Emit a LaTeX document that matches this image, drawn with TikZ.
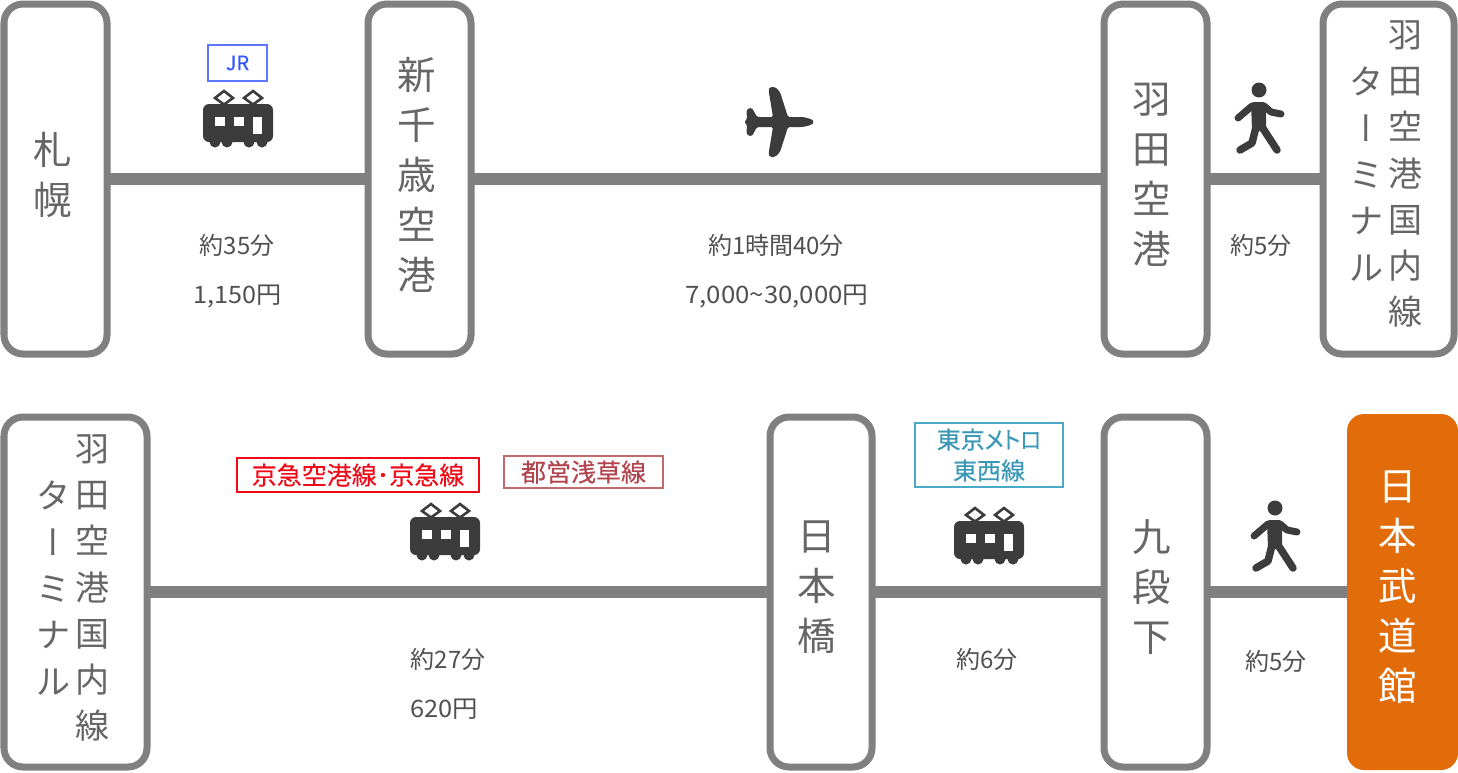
\documentclass[tikz,border=0pt]{standalone}
\usepackage{fontspec}
\setmainfont{Noto Sans CJK JP}
\newfontfamily\cjkp[RawFeature=+palt,FakeBold=0.25]{Noto Sans CJK JP}
\newfontfamily\cjkv[RawFeature=+vert]{Noto Sans CJK JP}
\definecolor{boxgray}{HTML}{808080}
\definecolor{txtgray}{HTML}{666666}
\definecolor{icondark}{HTML}{3C3C3C}
\definecolor{orangebox}{HTML}{E36C0A}
\definecolor{jrblue}{HTML}{3355FF}
\definecolor{kqred}{HTML}{F00A17}
\definecolor{asared}{HTML}{C26A6C}
\definecolor{asatxt}{HTML}{B2444E}
\definecolor{metro}{HTML}{4BA9C8}
\definecolor{metrotxt}{HTML}{3A97B5}
\tikzset{
 x=1pt,y=-1pt,
 stationbox/.style={draw=boxgray,line width=7pt,rounded corners=19pt,fill=white,inner sep=0pt,outer sep=0pt,anchor=north west},
 goalbox/.style={fill=orangebox,rounded corners=17pt,inner sep=0pt,outer sep=0pt,anchor=north west},
 stationtxt/.style={text=txtgray,align=center,inner sep=0pt,font=\fontsize{38.5}{50}\selectfont},
 goaltxt/.style={stationtxt,text=white},
 vcol/.style={text=txtgray,align=center,inner sep=0pt,font=\fontsize{34}{46.3}\selectfont},
 railline/.style={draw=boxgray,line width=12pt},
 info/.style={text=icondark!90,inner sep=0pt,font=\fontsize{24}{28}\selectfont},
 tagbox/.style={draw,line width=1.5pt,inner sep=0pt,align=center,font=\cjkp\fontsize{25}{31}\selectfont},
 pics/train/.style={code={
  \fill[icondark,rounded corners=6pt] (-35,-21) -- (35,-21) -- (35,17) -- (-35,17) -- cycle;
  \foreach \wx in {-23,-11,11,24}{\fill[icondark] (\wx,17) circle[radius=5.5];}
  \fill[white] (-23,-8) rectangle (-13,1);
  \fill[white] (-4,-8) rectangle (6,1);
  \fill[white] (15,-8) rectangle (24,9);
  \foreach \dx in {-14,15}{
   \draw[icondark,line width=2.6pt] (\dx-9,-27) -- (\dx,-34) -- (\dx+9,-27) -- (\dx,-20.5) -- cycle;}
 }},
 pics/walker/.style={code={
  \fill[icondark] (0,-31) circle[radius=7.5];
  \fill[icondark,rounded corners=3pt] (-8,-19) -- (7,-19) -- (7,10) -- (-7,10) -- cycle;
  \draw[icondark,line width=7pt,line cap=round,line join=round]
    (-21,-3) -- (-7,-15) -- (5,-15) -- (12,-9) -- (22,-7);
  \draw[icondark,line width=7.5pt,line cap=round,line join=round]
    (-3,6) -- (-7,22) -- (-19,29);
  \draw[icondark,line width=7.5pt,line cap=round,line join=round]
    (3,6) -- (18,29);
 }}
}
\begin{document}
\begin{tikzpicture}
\useasboundingbox (0,0) rectangle (1458,772);
% row 1 boxes
\node[stationbox,minimum width=103pt,minimum height=350pt] (sapporo) at (4,4) {};
\node[stationbox,minimum width=103pt,minimum height=350pt] (chitose) at (368,4) {};
\node[stationbox,minimum width=103pt,minimum height=350pt] (haneda) at (1104,4) {};
\node[stationbox,minimum width=131pt,minimum height=350pt] (term) at (1323,4) {};
% row 2 boxes
\node[stationbox,minimum width=143pt,minimum height=350pt] (term2) at (4,417) {};
\node[stationbox,minimum width=102pt,minimum height=350pt] (nihonbashi) at (770,417) {};
\node[stationbox,minimum width=103pt,minimum height=350pt] (kudan) at (1104,417) {};
\node[goalbox,minimum width=111pt,minimum height=356pt] (budokan) at (1347,414) {};
% station names
\node[stationtxt] (n1) at (53,175) {札\\幌};
\node[stationtxt] (n2) at (417,175) {新\\千\\歳\\空\\港};
\node[stationtxt] (n3) at (1152,175) {羽\\田\\空\\港};
\node[vcol] (terma) at (1366,174) {タ\\{\cjkv ー}\\ミ\\ナ\\ル};
\node[vcol] (termb) at (1405,174) {羽\\田\\空\\港\\国\\内\\線};
\node[vcol] (term2a) at (53,588) {タ\\{\cjkv ー}\\ミ\\ナ\\ル};
\node[vcol] (term2b) at (92,588) {羽\\田\\空\\港\\国\\内\\線};
\node[stationtxt] (n4) at (817,587) {日\\本\\橋};
\node[stationtxt] (n5) at (1152,587) {九\\段\\下};
\node[goaltxt] (n6) at (1398,587) {日\\本\\武\\道\\館};
% connectors
\draw[railline] (sapporo.east |- 0,179) -- (chitose.west |- 0,179);
\draw[railline] (chitose.east |- 0,179) -- (haneda.west |- 0,179);
\draw[railline] (haneda.east |- 0,179) -- (term.west |- 0,179);
\draw[railline] (term2.east |- 0,592) -- (nihonbashi.west |- 0,592);
\draw[railline] (nihonbashi.east |- 0,592) -- (kudan.west |- 0,592);
\draw[railline] (kudan.east |- 0,592) -- (budokan.west |- 0,592);
% icons
\pic at (238,125) {train};
\pic at (445,538) {train};
\pic at (989,542) {train};
\fill[icondark,rounded corners=1.5pt]
  (744,122) -- (747,119.5) -- (746.5,110) -- (749,108) -- (752,108) -- (757,117) -- (773,117)
  -- (768.5,90) -- (770,87) -- (775,87) -- (780,92) -- (788,117)
  -- (802,117) .. controls (809,118) and (813,120) .. (813,122) .. controls (813,124) and (809,126) .. (802,127)
  -- (788,127) -- (780,152) -- (775,157) -- (770,157) -- (768.5,154) -- (773,127)
  -- (757,127) -- (752,136) -- (749,136) -- (746.5,134) -- (747,124.5) -- cycle;
\pic at (1259,121) {walker};
\pic at (1275,539) {walker};
% info texts
\node[info] (t1a) at (237,245) {約35分};
\node[info] (t1b) at (238,296.5) {\scalebox{1.05}[1]{1,150円}};
\node[info] (t2a) at (776,245) {約1時間40分};
\node[info] (t2b) at (777,296.5) {\scalebox{1.075}[1]{7,000\textasciitilde30,000円}};
\node[info] (t3a) at (1261,245) {約5分};
\node[info] (t4a) at (448,659) {約27分};
\node[info] (t4b) at (444,709.5) {\scalebox{1.06}[1]{620円}};
\node[info] (t5a) at (987,659) {約6分};
\node[info] (t6a) at (1276,661) {約5分};
% tags
\node[tagbox,draw=jrblue!80,text=jrblue,minimum width=59pt,minimum height=36pt,font=\cjkp\fontsize{20}{24}\selectfont] (jr) at (237.5,63) {JR};
\node[tagbox,draw=kqred,text=kqred,minimum width=242pt,minimum height=34pt] (kq) at (358,475) {京急空港線･京急線};
\node[tagbox,draw=asared,text=asatxt,minimum width=159pt,minimum height=32pt] (asa) at (583.5,472) {都営浅草線};
\node[tagbox,draw=metro,text=metrotxt,minimum width=148pt,minimum height=64pt,font=\cjkp\fontsize{24}{31}\selectfont] (tozai) at (989,455) {東京\scalebox{.9}[1]{メトロ}\\東西線};
\end{tikzpicture}
\end{document}
